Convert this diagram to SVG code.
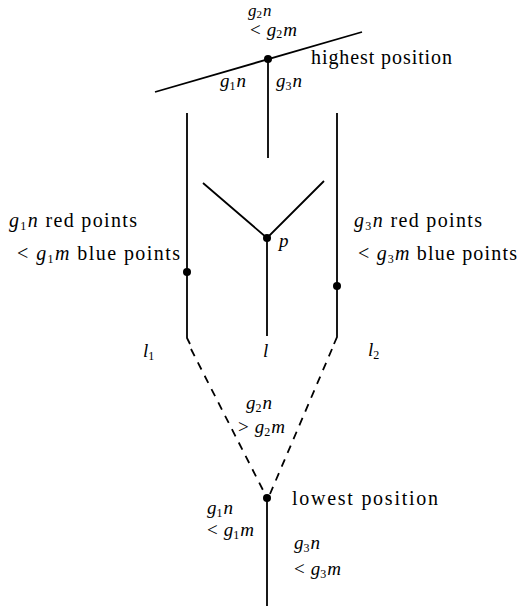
<svg xmlns="http://www.w3.org/2000/svg" width="521" height="609" viewBox="0 0 521 609">
<style>
.ln{stroke:#000;stroke-width:1.8;fill:none}
.ds{stroke:#000;stroke-width:1.8;fill:none;stroke-dasharray:8 7}
.dot{fill:#000}
.i{font-style:italic}
.s{font-size:12px}
.w{font-size:20px}
</style>
<rect width="521" height="609" fill="#fff"/>
<g id="connectors">
<line class="ln" x1="155" y1="92" x2="362" y2="32"/>
<line class="ln" x1="268" y1="59" x2="268" y2="158"/>
<path class="ln" d="M187 113 V338 L190 344"/>
<path class="ln" d="M337 113 V337 L334 344"/>
<line class="ds" x1="191" y1="349" x2="265" y2="494"/>
<line class="ds" x1="332" y1="349" x2="270" y2="494"/>
<line class="ln" x1="267" y1="498" x2="267" y2="606"/>
<polyline class="ln" points="203,183 267,238 324,181"/>
<line class="ln" x1="267" y1="238" x2="267" y2="336"/>
</g>
<g font-family="Liberation Serif, serif" font-size="19" fill="#000">
<g id="top-node">
<circle class="dot" cx="268" cy="59" r="4"/>
<text x="248" y="16" font-size="17"><tspan class="i">g</tspan><tspan font-size="11" dy="2">2</tspan><tspan class="i" dy="-2" dx="1">n</tspan></text>
<text x="250" y="36">&lt;<tspan class="i" dx="6">g</tspan><tspan class="s" dy="2">2</tspan><tspan class="i" dy="-2" dx="1">m</tspan></text>
<text class="w" x="311" y="64" textLength="141" lengthAdjust="spacing">highest position</text>
<text x="220" y="87"><tspan class="i">g</tspan><tspan class="s" dy="3">1</tspan><tspan class="i" dy="-3" dx="1">n</tspan></text>
<text x="276" y="87"><tspan class="i">g</tspan><tspan class="s" dy="3">3</tspan><tspan class="i" dy="-3" dx="1">n</tspan></text>
</g>
<g id="p-node">
<circle class="dot" cx="267" cy="238" r="4"/>
<text class="i" x="279" y="247">p</text>
<text class="i" x="263" y="357">l</text>
</g>
<g id="l1-node">
<circle class="dot" cx="187" cy="272" r="4"/>
<text class="w" x="9" y="227" textLength="128" lengthAdjust="spacing"><tspan class="i">g</tspan><tspan class="s" dy="3">1</tspan><tspan class="i" dy="-3">n</tspan> red points</text>
<text class="w" x="17" y="260" textLength="163" lengthAdjust="spacing">&lt; <tspan class="i">g</tspan><tspan class="s" dy="3">1</tspan><tspan class="i" dy="-3">m</tspan> blue points</text>
<text x="143" y="357"><tspan class="i">l</tspan><tspan class="s" dy="3">1</tspan></text>
</g>
<g id="l2-node">
<circle class="dot" cx="337" cy="286" r="4"/>
<text class="w" x="354" y="227" textLength="128" lengthAdjust="spacing"><tspan class="i">g</tspan><tspan class="s" dy="3">3</tspan><tspan class="i" dy="-3">n</tspan> red points</text>
<text class="w" x="358" y="260" textLength="159" lengthAdjust="spacing">&lt; <tspan class="i">g</tspan><tspan class="s" dy="3">3</tspan><tspan class="i" dy="-3">m</tspan> blue points</text>
<text x="368" y="356"><tspan class="i">l</tspan><tspan class="s" dy="3">2</tspan></text>
</g>
<g id="bottom-node">
<circle class="dot" cx="267" cy="498" r="4"/>
<text x="246" y="409"><tspan class="i">g</tspan><tspan class="s" dy="3">2</tspan><tspan class="i" dy="-3" dx="1">n</tspan></text>
<text x="238" y="433">&gt;<tspan class="i" dx="6">g</tspan><tspan class="s" dy="3">2</tspan><tspan class="i" dy="-3" dx="1">m</tspan></text>
<text class="w" x="292" y="505" textLength="146" lengthAdjust="spacing">lowest position</text>
<text x="207" y="514"><tspan class="i">g</tspan><tspan class="s" dy="3">1</tspan><tspan class="i" dy="-3" dx="1">n</tspan></text>
<text x="207" y="536">&lt;<tspan class="i" dx="6">g</tspan><tspan class="s" dy="3">1</tspan><tspan class="i" dy="-3" dx="1">m</tspan></text>
<text x="294" y="549"><tspan class="i">g</tspan><tspan class="s" dy="3">3</tspan><tspan class="i" dy="-3" dx="1">n</tspan></text>
<text x="294" y="575">&lt;<tspan class="i" dx="6">g</tspan><tspan class="s" dy="3">3</tspan><tspan class="i" dy="-3" dx="1">m</tspan></text>
</g>
</g>
</svg>
